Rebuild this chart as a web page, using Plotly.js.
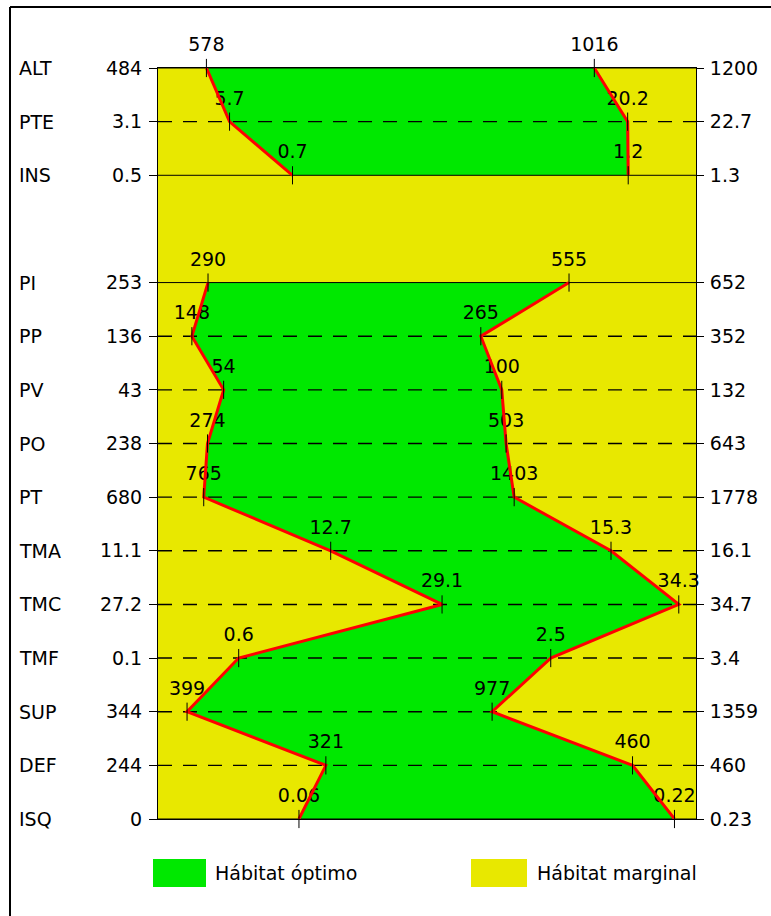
<!DOCTYPE html>
<html><head><meta charset="utf-8">
<script src="https://cdn.plot.ly/plotly-3.0.1.min.js"></script>
<style>html,body{margin:0;padding:0;background:#fff;} #chart{width:771px;height:916px;}</style>
</head><body><div id="chart"></div>
<script>
// Rows from top to bottom; an empty string marks the spacer row between the two groups
const variables  = ['ALT','PTE','INS','','PI','PP','PV','PO','PT','TMA','TMC','TMF','SUP','DEF','ISQ'];
const minLabels  = ['484','3.1','0.5','','253','136','43','238','680','11.1','27.2','0.1','344','244','0'];
const maxLabels  = ['1200','22.7','1.3','','652','352','132','643','1778','16.1','34.7','3.4','1359','460','0.23'];
const lowLabels  = ['578','5.7','0.7','','290','148','54','274','765','12.7','29.1','0.6','399','321','0.06'];
const highLabels = ['1016','20.2','1.2','','555','265','100','503','1403','15.3','34.3','2.5','977','460','0.22'];
// where the optimum-habitat bounds sit inside each variable's min–max range (% of range)
const lowPct  = [9.0,13.3,25.0,null,9.3,6.3,12.2,9.2,8.5,32.1,52.8,15.0,5.4,31.2,26.2];
const highPct = [81.1,87.3,87.4,null,76.4,60.0,63.9,64.7,66.2,84.2,96.8,73.0,62.1,88.2,96.0];
const legendLabels = ['Hábitat óptimo','Hábitat marginal'];

// ---- styling / layout constants ----
const W = 771, H = 916;
const M = {l: 158, r: 75, t: 68, b: 97};
const PW = W - M.l - M.r, PH = H - M.t - M.b;
const GREEN = '#00E800', YELLOW = '#E8E800', RED = '#FF0000';
const FONT = {family: 'DejaVu Sans, sans-serif', size: 19, color: '#000'};
const xp = px => (px - M.l) / PW;          // pixel -> paper x
const yp = py => (H - M.b - py) / PH;      // pixel -> paper y

// groups of consecutive non-empty rows
const rows = variables.map((v, i) => i);
const groups = [];
let cur = [];
rows.forEach(i => {
  if (variables[i] === '') { if (cur.length) groups.push(cur); cur = []; }
  else cur.push(i);
});
if (cur.length) groups.push(cur);
const used = rows.filter(i => variables[i] !== '');

const traces = [];
// green optimum polygons
groups.forEach(g => {
  const rev = g.slice().reverse();
  traces.push({
    type: 'scatter', mode: 'lines', fill: 'toself', fillcolor: GREEN,
    x: g.map(i => lowPct[i]).concat(rev.map(i => highPct[i])),
    y: g.concat(rev), line: {width: 0}, hoverinfo: 'skip', showlegend: false
  });
});
// row lines: group edges solid, inner rows dashed
used.forEach(i => {
  const solid = groups.some(g => g[0] === i || g[g.length - 1] === i);
  traces.push({
    type: 'scatter', mode: 'lines', x: [0, 100], y: [i, i],
    line: {color: '#000', width: solid ? 1 : 1.4, dash: solid ? 'solid' : '14px,11px'},
    hoverinfo: 'skip', showlegend: false
  });
});
// value labels
[[lowPct, lowLabels], [highPct, highLabels]].forEach(([p, lab]) => {
  traces.push({
    type: 'scatter', mode: 'markers+text', x: used.map(i => p[i]), y: used,
    text: used.map(i => lab[i]), textposition: 'top center', textfont: FONT,
    marker: {size: 18, opacity: 0}, hoverinfo: 'skip', showlegend: false, cliponaxis: false
  });
});
// red boundary lines
groups.forEach(g => {
  [lowPct, highPct].forEach(p => {
    traces.push({
      type: 'scatter', mode: 'lines', x: g.map(i => p[i]), y: g,
      line: {color: RED, width: 3}, hoverinfo: 'skip', showlegend: false, cliponaxis: false
    });
  });
});
// small tick marks at each bound
[lowPct, highPct].forEach(p => {
  traces.push({
    type: 'scatter', mode: 'markers', x: used.map(i => p[i]), y: used,
    marker: {symbol: 'line-ns', size: 13, line: {color: '#000', width: 1}},
    hoverinfo: 'skip', showlegend: false, cliponaxis: false
  });
});
// anchor for right axis
traces.push({type: 'scatter', mode: 'lines', x: [null], y: [null], yaxis: 'y2', showlegend: false, hoverinfo: 'skip'});

const annotations = used.map(i => ({
  text: variables[i], xref: 'paper', yref: 'y', x: xp(17), y: i,
  xanchor: 'left', yanchor: 'middle', showarrow: false, font: FONT
}));
annotations.push({text: legendLabels[0], xref: 'paper', yref: 'paper', x: xp(213), y: yp(873),
  xanchor: 'left', yanchor: 'middle', showarrow: false, font: FONT});
annotations.push({text: legendLabels[1], xref: 'paper', yref: 'paper', x: xp(535), y: yp(873),
  xanchor: 'left', yanchor: 'middle', showarrow: false, font: FONT});

const shapes = [
  {type: 'line', xref: 'paper', yref: 'paper', x0: xp(10), x1: xp(W + 5), y0: yp(7), y1: yp(7), line: {color: '#000', width: 2}},
  {type: 'line', xref: 'paper', yref: 'paper', x0: xp(10), x1: xp(10), y0: yp(7), y1: yp(H + 5), line: {color: '#000', width: 2}},
  {type: 'rect', xref: 'paper', yref: 'paper', x0: xp(153), x1: xp(206), y0: yp(859), y1: yp(887), fillcolor: GREEN, line: {width: 0}},
  {type: 'rect', xref: 'paper', yref: 'paper', x0: xp(471), x1: xp(527), y0: yp(859), y1: yp(887), fillcolor: YELLOW, line: {width: 0}}
];

const yBase = {
  range: [variables.length - 1, 0], autorange: false, tickmode: 'array', tickvals: used,
  ticks: 'outside', tickcolor: '#000', tickwidth: 1, showgrid: false, zeroline: false,
  showline: true, linecolor: '#000', linewidth: 1, tickfont: FONT, fixedrange: true
};

const layout = {
  width: W, height: H, margin: M, autosize: false,
  paper_bgcolor: '#fff', plot_bgcolor: YELLOW, showlegend: false,
  font: FONT,
  xaxis: {range: [0, 100], autorange: false, showgrid: false, zeroline: false, showticklabels: false,
          ticks: '', showline: true, mirror: true, linecolor: '#000', linewidth: 1, fixedrange: true},
  yaxis: Object.assign({}, yBase, {ticktext: used.map(i => minLabels[i]), ticklen: 8, side: 'left', ticklabelstandoff: 3}),
  yaxis2: Object.assign({}, yBase, {ticktext: used.map(i => maxLabels[i]), ticklen: 7, side: 'right', overlaying: 'y', ticklabelstandoff: 2}),
  annotations: annotations, shapes: shapes
};

Plotly.newPlot('chart', traces, layout, {displayModeBar: false, staticPlot: true});
</script>
</body></html>
